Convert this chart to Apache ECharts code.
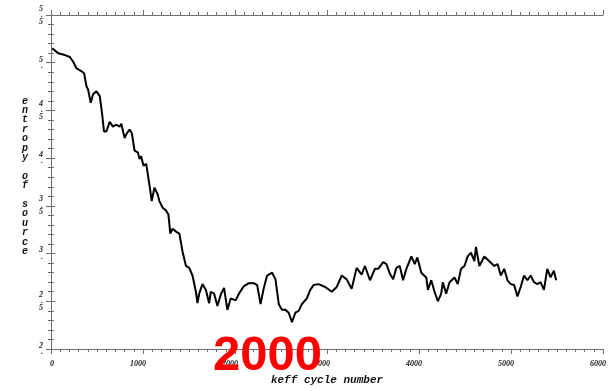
<!DOCTYPE html>
<html>
<head>
<meta charset="utf-8">
<script src="https://cdn.jsdelivr.net/npm/echarts@6/dist/echarts.min.js"></script>
<style>html,body{margin:0;padding:0;background:#fff}#c{width:609px;height:391px}</style>
</head>
<body>
<div id="c"></div>
<script>
// keff cycle numbers (x) and entropy of source (y)
var cycles = [14,79,151,205,241,278,332,360,386,403,432,457,494,530,555,576,602,638,673,710,746,764,800,818,854,879,908,944,962,980,1005,1035,1070,1095,1124,1160,1178,1214,1251,1276,1297,1322,1359,1395,1430,1467,1503,1538,1575,1592,1611,1646,1683,1719,1737,1773,1809,1845,1881,1917,1953,2007,2043,2097,2151,2205,2241,2278,2313,2349,2403,2440,2476,2511,2548,2584,2619,2656,2692,2727,2781,2818,2854,2908,2980,3052,3106,3160,3214,3268,3322,3376,3413,3467,3521,3556,3611,3646,3683,3719,3754,3791,3827,3863,3917,3954,3982,4025,4079,4097,4133,4169,4205,4241,4259,4295,4332,4386,4421,4457,4494,4529,4565,4602,4619,4656,4710,4764,4818,4854,4889,4926,4962,4997,5034,5070,5105,5142,5178,5214,5250,5286,5322,5358,5394,5430,5466,5491];
var entropy = [5.15,5.10,5.08,5.06,5.01,4.94,4.91,4.89,4.75,4.72,4.58,4.67,4.70,4.65,4.47,4.28,4.28,4.38,4.33,4.35,4.33,4.36,4.21,4.25,4.30,4.26,4.08,4.06,3.99,4.02,3.92,3.94,3.72,3.55,3.69,3.62,3.55,3.48,3.45,3.41,3.21,3.26,3.23,3.21,3.02,2.87,2.85,2.77,2.60,2.48,2.58,2.68,2.62,2.48,2.60,2.58,2.45,2.57,2.64,2.41,2.53,2.51,2.58,2.66,2.69,2.69,2.67,2.47,2.64,2.77,2.80,2.73,2.47,2.41,2.41,2.38,2.28,2.38,2.40,2.47,2.53,2.62,2.67,2.68,2.65,2.60,2.65,2.77,2.73,2.63,2.85,2.78,2.87,2.72,2.84,2.84,2.91,2.89,2.79,2.73,2.85,2.87,2.72,2.84,2.97,2.89,2.96,2.80,2.75,2.62,2.72,2.60,2.50,2.58,2.70,2.58,2.70,2.75,2.68,2.84,2.87,2.97,3.01,2.92,3.07,2.87,2.97,2.92,2.87,2.89,2.77,2.84,2.72,2.68,2.67,2.55,2.65,2.77,2.72,2.77,2.70,2.68,2.70,2.62,2.84,2.75,2.82,2.72];
var xTicks = [0,1000,2000,3000,4000,5000,6000];
var yTicks = [2,2.5,3,3.5,4,4.5,5,5.5];
var xTitle = 'keff cycle number';
var yTitle = 'entropy of source';
var note = '2000';

var data = cycles.map(function(c,i){return [c, entropy[i]];});
var axisCol = '#6e6e6e';
var lblFont = {fontFamily:'Liberation Serif', fontStyle:'italic', fontWeight:'bold', fontSize:8, color:'#222'};

var chart = echarts.init(document.getElementById('c'), null, {renderer:'canvas'});
chart.setOption({
  animation:false,
  backgroundColor:'#fff',
  grid:{left:51, right:3, top:15, bottom:32, containLabel:false},
  xAxis:[{
    type:'value', position:'bottom', min:xTicks[0], max:xTicks[xTicks.length-1], interval:1000,
    axisLine:{show:true, lineStyle:{color:axisCol, width:1}},
    axisTick:{show:true, length:5, lineStyle:{color:axisCol}},
    minorTick:{show:true, splitNumber:10, length:3, lineStyle:{color:axisCol}},
    splitLine:{show:false},
    axisLabel:Object.assign({margin:11, align:'right', padding:[0,-3,0,0], showMinLabel:true, showMaxLabel:true,
      formatter:function(v){return String(v);}}, lblFont),
    name:xTitle, nameLocation:'middle', nameGap:26,
    nameTextStyle:{fontFamily:'Liberation Mono', fontStyle:'italic', fontWeight:'bold', fontSize:11, color:'#111'}
  },{
    type:'value', position:'top', min:xTicks[0], max:xTicks[xTicks.length-1], interval:1000,
    axisLine:{show:true, lineStyle:{color:axisCol, width:1}},
    axisTick:{show:true, length:5, lineStyle:{color:axisCol}},
    minorTick:{show:true, splitNumber:10, length:3, lineStyle:{color:axisCol}},
    splitLine:{show:false}, axisLabel:{show:false}
  }],
  yAxis:[{
    type:'value', position:'left', min:yTicks[0], max:yTicks[yTicks.length-1], interval:0.5,
    axisLine:{show:true, lineStyle:{color:axisCol, width:1}},
    axisTick:{show:true, length:5, lineStyle:{color:axisCol}},
    minorTick:{show:true, splitNumber:5, length:3, lineStyle:{color:axisCol}},
    splitLine:{show:false},
    axisLabel:Object.assign({margin:8, lineHeight:6.5, align:'right', showMinLabel:true, showMaxLabel:true,
      formatter:function(v){var s = Number.isInteger(v) ? v+'.' : String(v); return s.split('').join('\n');}}, lblFont)
  },{
    type:'value', position:'right', min:yTicks[0], max:yTicks[yTicks.length-1], interval:0.5,
    axisLine:{show:true, lineStyle:{color:axisCol, width:1}},
    axisTick:{show:true, length:4, lineStyle:{color:axisCol}},
    minorTick:{show:true, splitNumber:5, length:3, lineStyle:{color:axisCol}},
    splitLine:{show:false}, axisLabel:{show:false}
  }],
  series:[{
    type:'line', xAxisIndex:0, yAxisIndex:0, data:data, showSymbol:false, symbol:'none',
    lineStyle:{color:'#000', width:2}, z:3
  }],
  graphic:[{
    type:'text', left:22, top:96, z:10,
    style:{text:yTitle.split('').join('\n'), fontFamily:'Liberation Mono', fontStyle:'italic', fontWeight:'bold',
      fontSize:10, lineHeight:9.4, fill:'#111', align:'center'}
  },{
    type:'text', z:20, left:213, top:332,
    style:{text:note, fontFamily:'Liberation Sans', fontWeight:'bold', fontSize:49, fill:'#ff0000'}
  }]
});
</script>
</body>
</html>
